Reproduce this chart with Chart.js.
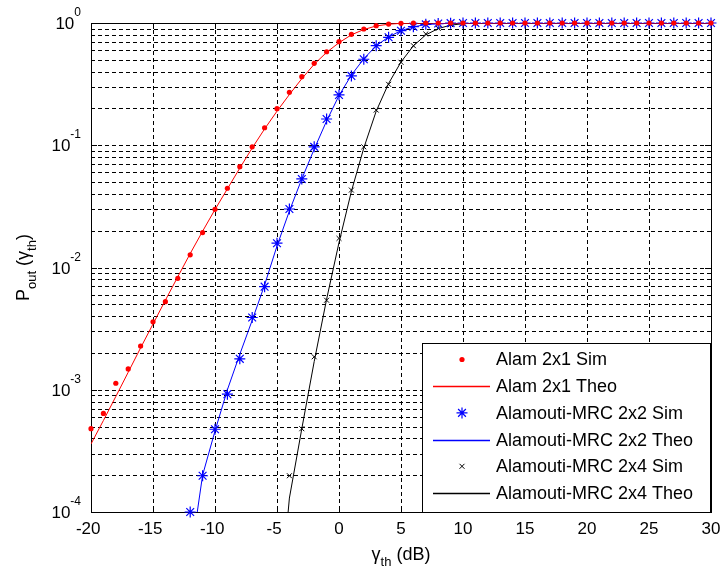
<!DOCTYPE html>
<html>
<head>
<meta charset="utf-8">
<script src="https://cdn.jsdelivr.net/npm/chart.js@4"></script>
<style>
  body { margin: 0; background: #fff; }
  #wrap { width: 721px; height: 573px; position: relative; }
</style>
</head>
<body>
<div id="wrap"><canvas id="myChart"></canvas></div>
<script>
// SNR threshold in dB
const snr = [];
for (let v = -20; v <= 30; v++) snr.push(v);

// Alam 2x1 (red)
const alamSim = [4.8e-4, 6.4e-4, 1.13e-3, 1.48e-3, 2.28e-3, 3.6e-3, 5.25e-3, 8.15e-3, 1.27e-2, 1.93e-2,
	2.99e-2, 4.45e-2, 6.68e-2, 9.7e-2, 0.139, 0.199, 0.271, 0.364, 0.468, 0.582,
	0.703, 0.808, 0.893, 0.95, 0.98, 0.993, 0.998, 1, 1, 1,
	1, 1, 1, 1, 1, 1, 1, 1, 1, 1,
	1, 1, 1, 1, 1, 1, 1, 1, 1, 1, 1];
const alamTheo = [3.6e-4, 5.6e-4, 8.8e-4, 1.39e-3, 2.2e-3, 3.45e-3, 5.4e-3, 8.4e-3, 1.3e-2, 1.98e-2,
	2.98e-2, 4.4e-2, 6.5e-2, 9.5e-2, 0.136, 0.19, 0.26, 0.35, 0.46, 0.575,
	0.69, 0.8, 0.885, 0.945, 0.978, 0.993, 0.998, 1, 1, 1,
	1, 1, 1, 1, 1, 1, 1, 1, 1, 1,
	1, 1, 1, 1, 1, 1, 1, 1, 1, 1, 1];

// Alamouti-MRC 2x2 (blue)
const mrc22Sim = [null, null, null, null, null, null, null, null, 1e-4, 1.98e-4,
	4.75e-4, 9.2e-4, 1.79e-3, 3.9e-3, 6.97e-3, 1.58e-2, 3.01e-2, 5.3e-2, 9.7e-2, 0.164,
	0.258, 0.369, 0.505, 0.652, 0.764, 0.865, 0.933, 0.975, 0.99, 0.997,
	1, 1, 1, 1, 1, 1, 1, 1, 1, 1,
	1, 1, 1, 1, 1, 1, 1, 1, 1, 1, 1];
const mrc22Theo = [null, null, null, null, null, null, null, null, 4e-5, 2.0e-4,
	4.6e-4, 1.0e-3, 1.95e-3, 3.7e-3, 7.2e-3, 1.5e-2, 2.9e-2, 5.3e-2, 9.3e-2, 0.158,
	0.255, 0.375, 0.51, 0.65, 0.77, 0.865, 0.93, 0.97, 0.988, 0.996,
	1, 1, 1, 1, 1, 1, 1, 1, 1, 1,
	1, 1, 1, 1, 1, 1, 1, 1, 1, 1, 1];

// Alamouti-MRC 2x4 (black)
const mrc24Sim = [null, null, null, null, null, null, null, null, null, null,
	null, null, null, null, null, null, 1.98e-4, 4.8e-4, 1.86e-3, 5.4e-3,
	1.73e-2, 4.3e-2, 9.7e-2, 0.194, 0.315, 0.477, 0.652, 0.813, 0.904, 0.97,
	0.99, 0.998, 1, 1, 1, 1, 1, 1, 1, 1,
	1, 1, 1, 1, 1, 1, 1, 1, 1, 1, 1];
const mrc24Theo = [null, null, null, null, null, null, null, null, null, null,
	null, null, null, null, null, 1e-5, 1.3e-4, 4.8e-4, 1.7e-3, 5.5e-3,
	1.6e-2, 4.2e-2, 9.5e-2, 0.19, 0.32, 0.48, 0.65, 0.8, 0.9, 0.96,
	0.987, 0.997, 1, 1, 1, 1, 1, 1, 1, 1,
	1, 1, 1, 1, 1, 1, 1, 1, 1, 1, 1];

const xTicks = [-20, -15, -10, -5, 0, 5, 10, 15, 20, 25, 30];
const yDecades = [-4, -3, -2, -1, 0];
const legendLabels = ['Alam 2x1 Sim', 'Alam 2x1 Theo', 'Alamouti-MRC 2x2 Sim',
	'Alamouti-MRC 2x2 Theo', 'Alamouti-MRC 2x4 Sim', 'Alamouti-MRC 2x4 Theo'];

const FONT = '"Liberation Sans", Arial, sans-serif';

function pts(arr) {
	return snr.map((x, i) => ({ x: x, y: arr[i] })).filter(p => p.y !== null);
}

// text with optional subscript parts, drawn left to right from (x, y) baseline
function richWidth(ctx, parts, size, subSize) {
	let w = 0;
	parts.forEach(p => {
		ctx.font = (p.sub ? subSize : size) + 'px ' + FONT;
		w += ctx.measureText(p.t).width;
	});
	return w;
}
function drawRich(ctx, parts, x, y, size, subSize, subDrop) {
	let cx = x;
	parts.forEach(p => {
		ctx.font = (p.sub ? subSize : size) + 'px ' + FONT;
		ctx.fillText(p.t, cx, p.sub ? y + subDrop : y);
		cx += ctx.measureText(p.t).width;
	});
}

const matlabAxes = {
	id: 'matlabAxes',
	beforeDraw(chart) {
		const ctx = chart.ctx;
		ctx.save();
		ctx.fillStyle = '#fff';
		ctx.fillRect(0, 0, chart.width, chart.height);
		ctx.restore();
	},
	beforeDatasetsDraw(chart) {
		const ctx = chart.ctx;
		const xs = chart.scales.x, ys = chart.scales.y;
		const a = chart.chartArea;
		ctx.save();
		// dashed grid
		ctx.strokeStyle = '#000';
		ctx.lineWidth = 1;
		ctx.setLineDash([4, 3]);
		ctx.beginPath();
		xTicks.forEach(v => {
			if (v === xTicks[0] || v === xTicks[xTicks.length - 1]) return;
			const px = Math.round(xs.getPixelForValue(v)) + 0.5;
			ctx.moveTo(px, a.top);
			ctx.lineTo(px, a.bottom);
		});
		yDecades.forEach(k => {
			for (let m = 1; m <= 9; m++) {
				const v = m * Math.pow(10, k);
				if (v <= 1e-4 || v >= 1) continue;
				const py = Math.round(ys.getPixelForValue(v)) + 0.5;
				ctx.moveTo(a.left, py);
				ctx.lineTo(a.right, py);
			}
		});
		ctx.stroke();
		ctx.setLineDash([]);

		// ticks
		ctx.beginPath();
		xTicks.forEach(v => {
			const px = Math.round(xs.getPixelForValue(v)) + 0.5;
			ctx.moveTo(px, a.bottom); ctx.lineTo(px, a.bottom - 6);
			ctx.moveTo(px, a.top); ctx.lineTo(px, a.top + 6);
		});
		yDecades.forEach(k => {
			for (let m = 1; m <= 9; m++) {
				const v = m * Math.pow(10, k);
				if (v > 1) continue;
				const len = m === 1 ? 6 : 3;
				const py = Math.round(ys.getPixelForValue(v)) + 0.5;
				ctx.moveTo(a.left, py); ctx.lineTo(a.left + len, py);
				ctx.moveTo(a.right, py); ctx.lineTo(a.right - len, py);
			}
		});
		ctx.stroke();

		// axes box
		ctx.strokeRect(Math.round(a.left) + 0.5, Math.round(a.top) + 0.5,
			Math.round(a.right - a.left), Math.round(a.bottom - a.top));

		// tick labels
		ctx.fillStyle = '#000';
		ctx.textBaseline = 'alphabetic';
		ctx.font = '17px ' + FONT;
		xTicks.forEach(v => {
			const px = xs.getPixelForValue(v);
			const digits = String(Math.abs(v));
			const dw = ctx.measureText(digits).width;
			ctx.textAlign = 'right';
			ctx.fillText(String(v), px + dw / 2, a.bottom + 22);
		});
		ctx.textAlign = 'left';
		yDecades.forEach(k => {
			const py = ys.getPixelForValue(Math.pow(10, k));
			ctx.font = '12px ' + FONT;
			const sup = String(k);
			const sw = ctx.measureText(sup).width;
			ctx.font = '17px ' + FONT;
			const bw = ctx.measureText('10').width;
			const right = a.left - 10;
			ctx.fillText('10', right - sw - bw, py + 6);
			ctx.font = '12px ' + FONT;
			ctx.fillText(sup, right - sw, py - 7);
		});

		// axis titles
		const xParts = [{ t: '\u03b3' }, { t: 'th', sub: true }, { t: ' (dB)' }];
		const xw = richWidth(ctx, xParts, 18, 13);
		drawRich(ctx, xParts, (a.left + a.right) / 2 - xw / 2, 560, 18, 13, 6);

		const yParts = [{ t: 'P' }, { t: 'out', sub: true }, { t: ' (\u03b3' }, { t: 'th', sub: true }, { t: ')' }];
		const yw = richWidth(ctx, yParts, 18, 13);
		ctx.translate(29, (a.top + a.bottom) / 2);
		ctx.rotate(-Math.PI / 2);
		drawRich(ctx, yParts, -yw / 2, 0, 18, 13, 7);
		ctx.restore();
	},
	afterDatasetsDraw(chart) {
		const ctx = chart.ctx;
		const a = chart.chartArea;
		ctx.save();
		const L = 422, T = 343, R = a.right - 1, B = a.bottom;
		ctx.fillStyle = '#fff';
		ctx.fillRect(L, T, R - L, B - T);
		ctx.strokeStyle = '#000';
		ctx.lineWidth = 1;
		ctx.strokeRect(L + 0.5, T + 0.5, R - L, B - T);
		ctx.font = '18px ' + FONT;
		ctx.textBaseline = 'middle';
		ctx.textAlign = 'left';
		chart.data.datasets.forEach((ds, i) => {
			const cy = T + 16.5 + i * 26.7;
			if (ds.showLine) {
				ctx.strokeStyle = ds.borderColor;
				ctx.lineWidth = 1.5;
				ctx.beginPath();
				ctx.moveTo(433, Math.round(cy) + 0.5);
				ctx.lineTo(490, Math.round(cy) + 0.5);
				ctx.stroke();
			} else {
				ctx.strokeStyle = ds.borderColor;
				ctx.fillStyle = ds.backgroundColor;
				ctx.lineWidth = ds.borderWidth;
				Chart.helpers.drawPoint(ctx, {
					pointStyle: ds.pointStyle, radius: ds.pointRadius,
					borderWidth: ds.borderWidth, rotation: 0
				}, 462, cy);
			}
			ctx.fillStyle = '#000';
			ctx.fillText(legendLabels[i], 496, cy + 1);
		});
		ctx.restore();
	}
};

const ctx = document.getElementById('myChart').getContext('2d');
const myChart = new Chart(ctx, {
	type: 'scatter',
	data: {
		datasets: [{
			label: legendLabels[0],
			data: pts(alamSim),
			showLine: false,
			pointStyle: 'circle',
			pointRadius: 2.6,
			borderWidth: 0,
			borderColor: '#ff0000',
			backgroundColor: '#ff0000',
			clip: false,
		}, {
			label: legendLabels[1],
			data: pts(alamTheo),
			showLine: true,
			pointRadius: 0,
			borderWidth: 1,
			borderColor: '#ff0000',
			backgroundColor: '#ff0000',
		}, {
			label: legendLabels[2],
			data: pts(mrc22Sim),
			showLine: false,
			pointStyle: 'star',
			pointRadius: 5.5,
			borderWidth: 1.2,
			borderColor: '#0000ff',
			backgroundColor: '#0000ff',
			clip: false,
		}, {
			label: legendLabels[3],
			data: pts(mrc22Theo),
			showLine: true,
			pointRadius: 0,
			borderWidth: 1,
			borderColor: '#0000ff',
			backgroundColor: '#0000ff',
		}, {
			label: legendLabels[4],
			data: pts(mrc24Sim),
			showLine: false,
			pointStyle: 'crossRot',
			pointRadius: 3.5,
			borderWidth: 1,
			borderColor: '#000000',
			backgroundColor: '#000000',
			clip: false,
		}, {
			label: legendLabels[5],
			data: pts(mrc24Theo),
			showLine: true,
			pointRadius: 0,
			borderWidth: 1,
			borderColor: '#000000',
			backgroundColor: '#000000',
		}]
	},
	options: {
		responsive: true,
		maintainAspectRatio: false,
		animation: false,
		layout: { padding: { left: 91, top: 23, right: 10, bottom: 61 } },
		scales: {
			x: { type: 'linear', min: -20, max: 30, display: false },
			y: { type: 'logarithmic', min: 1e-4, max: 1, display: false }
		},
		plugins: {
			legend: { display: false },
			tooltip: { enabled: false }
		}
	},
	plugins: [matlabAxes]
});
</script>
</body>
</html>
